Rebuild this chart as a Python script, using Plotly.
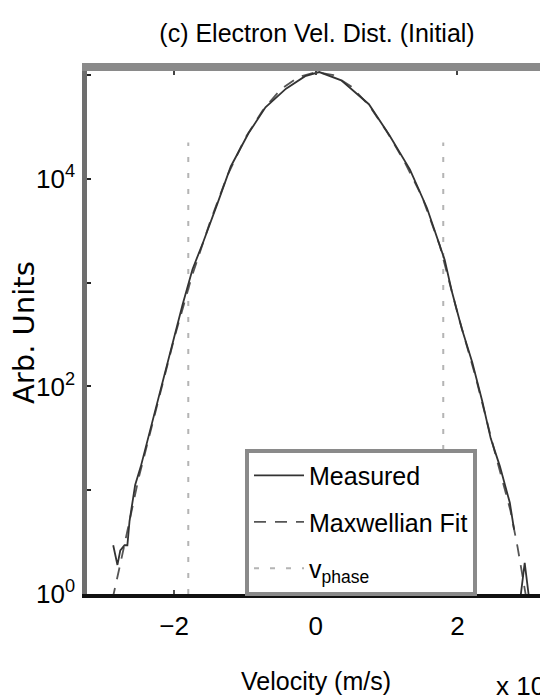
import plotly.graph_objects as go

# ---- data (velocity in units of 1e6 m/s, log10 of Arb. Units) ----
velocity_measured = [-2.86, -2.80, -2.76, -2.70, -2.66, -2.63, -2.58, -2.55, -2.47, -2.32,
                     -2.18, -2.03, -1.88, -1.74, -1.59, -1.39, -1.20, -0.95, -0.71, -0.42,
                     -0.15, 0.05, 0.36, 0.75, 1.04, 1.33, 1.57, 1.82, 1.92, 2.06,
                     2.21, 2.35, 2.47, 2.60, 2.74, 2.80, 2.83, 2.86, 2.95, 3.04]
log10_measured = [0.47, 0.28, 0.42, 0.47, 0.47, 0.70, 0.92, 1.05, 1.23, 1.63,
                  2.00, 2.40, 2.79, 3.13, 3.39, 3.76, 4.12, 4.44, 4.69, 4.87,
                  4.99, 5.03, 4.95, 4.72, 4.42, 4.09, 3.72, 3.22, 2.92, 2.56,
                  2.23, 1.86, 1.50, 1.23, 0.88, 0.62, None, -0.20, 0.30, -0.20]

velocity_fit = [-3.00, -2.85, -2.75, -2.50, -2.25, -2.00, -1.75, -1.50, -1.25, -1.00,
                -0.75, -0.50, -0.25, 0.00, 0.25, 0.50, 0.75, 1.00, 1.25, 1.50,
                1.75, 2.00, 2.25, 2.50, 2.75, 2.85, 2.95, 3.05]
log10_fit = [-0.45, 0.00, 0.32, 1.12, 1.80, 2.46, 3.06, 3.57, 4.03, 4.39,
             4.66, 4.86, 4.98, 5.03, 5.00, 4.89, 4.71, 4.46, 4.17, 3.83,
             3.36, 2.71, 2.11, 1.44, 0.80, 0.45, 0.05, -0.35]

v_phase_values = [-1.8, 1.8]
v_phase_log10_span = [0.0, 4.35]

x_tick_values = [-2, 0, 2]
y_tick_decades = [0, 1, 2, 3, 4, 5]
y_tick_labels = ["10<sup>0</sup>", "", "10<sup>2</sup>", "", "10<sup>4</sup>", ""]

title_text = "(c) Electron Vel. Dist. (Initial)"
x_label = "Velocity (m/s)"
y_label = "Arb. Units"
x_scale_label = "x 10<sup>6</sup>"
legend_names = ["Measured", "Maxwellian Fit", "v<sub>phase</sub>"]

x_range = [-3.23, 3.166]
y_range_log10 = [0.0, 5.04]

FONT = "Liberation Sans, Arial, sans-serif"

# ---- build traces ----
meas_y = [10 ** v if v is not None else None for v in log10_measured]
fit_y = [10 ** v for v in log10_fit]

vp_x, vp_y = [], []
for v in v_phase_values:
    vp_x += [v, v, None]
    vp_y += [10 ** v_phase_log10_span[0], 10 ** v_phase_log10_span[1], None]

fig = go.Figure()
fig.add_trace(go.Scatter(x=vp_x, y=vp_y, mode="lines", name=legend_names[2], legendrank=3,
                         legendgroup="c",
                         line=dict(color="#b4b4b4", width=2, dash="5px,11px")))
fig.add_trace(go.Scatter(x=velocity_fit, y=fit_y, mode="lines", name=legend_names[1], legendrank=2,
                         legendgroup="b",
                         line=dict(color="#555555", width=1.8, dash="12px,9px")))
fig.add_trace(go.Scatter(x=velocity_measured, y=meas_y, mode="lines", name=legend_names[0], legendrank=1,
                         legendgroup="a",
                         connectgaps=False, line=dict(color="#333333", width=1.8)))
# carrier for the top (mirrored) axis
fig.add_trace(go.Scatter(x=[x_range[0]], y=[1], xaxis="x2", mode="markers",
                         marker=dict(opacity=0), showlegend=False, hoverinfo="skip"))

fig.update_layout(
    width=540, height=696,
    margin=dict(l=87, r=0, t=71, b=102, pad=0),
    paper_bgcolor="white", plot_bgcolor="white",
    font=dict(family=FONT, color="black", size=25),
    title=dict(text=title_text, x=317 / 540, xanchor="center", xref="container",
               y=1 - 33 / 696, yanchor="middle", yref="container",
               font=dict(family=FONT, size=25, color="black")),
    xaxis=dict(range=x_range, tickvals=x_tick_values, showgrid=False, zeroline=False,
               showline=True, linecolor="#111111", linewidth=3.5,
               ticks="inside", ticklen=4, tickwidth=1.5, tickcolor="#555555",
               ticklabelstandoff=6, tickfont=dict(family=FONT, size=26, color="black")),
    xaxis2=dict(range=x_range, overlaying="x", side="top", tickvals=x_tick_values,
                showgrid=False, zeroline=False, showticklabels=False,
                showline=True, linecolor="#8a8a8a", linewidth=7.5,
                ticks="inside", ticklen=4, tickwidth=2, tickcolor="#444444"),
    yaxis=dict(type="log", range=y_range_log10,
               tickvals=[10 ** d for d in y_tick_decades], ticktext=y_tick_labels,
               showgrid=False, zeroline=False,
               showline=True, linecolor="#6e6e6e", linewidth=4.6,
               ticks="inside", ticklen=4, tickwidth=2, tickcolor="#222222",
               ticklabelstandoff=2, tickfont=dict(family=FONT, size=26, color="black")),
    legend=dict(x=(245 - 87) / 453, xanchor="left", y=-0.003, yanchor="bottom",
                bgcolor="white", bordercolor="#8a8a8a", borderwidth=4,
                font=dict(family=FONT, size=25, color="black"),
                itemwidth=50, entrywidth=188, entrywidthmode="pixels",
                tracegroupgap=11, traceorder="grouped"),
    showlegend=True,
)

fig.add_annotation(text=x_label, xref="x", yref="paper", x=0, y=-(681 - 594) / 523,
                   xanchor="center", yanchor="middle", showarrow=False,
                   font=dict(family=FONT, size=25, color="black"))
fig.add_annotation(text=y_label, xref="paper", yref="paper", x=(23.5 - 87) / 453, y=0.5,
                   xanchor="center", yanchor="middle", textangle=-90, showarrow=False,
                   font=dict(family="DejaVu Sans, sans-serif", size=29, color="black"))
fig.add_annotation(text=x_scale_label, xref="paper", yref="paper", x=(494 - 87) / 453,
                   y=-(684 - 594) / 523, xanchor="left", yanchor="middle", showarrow=False,
                   font=dict(family=FONT, size=26, color="black"))

fig.write_html("out.html")
